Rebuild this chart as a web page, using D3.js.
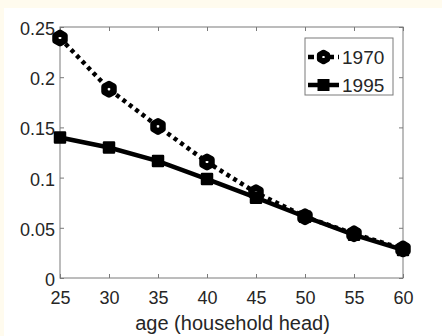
<!DOCTYPE html>
<html>
<head>
<meta charset="utf-8">
<script src="https://cdn.jsdelivr.net/npm/d3@7"></script>
<style>
  html, body { margin: 0; padding: 0; background: #fffbee; }
  svg { display: block; }
  text { font-family: "Liberation Sans", Arial, sans-serif; fill: #262626; }
</style>
</head>
<body>
<svg id="chart" width="442" height="336"></svg>
<script>
// Age of household head (x) and share for each survey year
const ages = [25, 30, 35, 40, 45, 50, 55, 60];
const share1970 = [0.239, 0.188, 0.151, 0.1155, 0.085, 0.061, 0.044, 0.029];
const share1995 = [0.140, 0.130, 0.1165, 0.0985, 0.080, 0.061, 0.043, 0.028];
const seriesNames = ["1970", "1995"];
const xTicks = [25, 30, 35, 40, 45, 50, 55, 60];
const yTicks = [0, 0.05, 0.1, 0.15, 0.2, 0.25];
const yTickLabels = ["0", "0.05", "0.1", "0.15", "0.2", "0.25"];
const xLabel = "age (household head)";

const svg = d3.select("#chart");
const W = 442, H = 336;
const plotL = 60, plotR = 403, plotT = 27, plotB = 278;

// white figure area
svg.append("rect").attr("x", 4).attr("y", 8).attr("width", W - 4).attr("height", H - 8).attr("fill", "#ffffff");

const x = d3.scaleLinear().domain([25, 60]).range([plotL, plotR]);
const y = d3.scaleLinear().domain([0, 0.25]).range([plotB, plotT]);

const axisColor = "#7a7a7a";
const fontSize = 18;

function styleAxis(g) {
  g.select(".domain").remove();
  g.selectAll(".tick line").attr("stroke", axisColor).attr("stroke-width", 1);
  g.selectAll(".tick text").attr("font-size", fontSize).attr("fill", "#303030")
    .attr("font-family", '"Liberation Sans", Arial, sans-serif');
}

// bottom axis with inward ticks
svg.append("g").attr("transform", `translate(0,${plotB})`)
  .call(d3.axisBottom(x).tickValues(xTicks).tickSizeInner(-4).tickSizeOuter(0).tickPadding(13).tickFormat(d3.format("d")))
  .call(styleAxis);
// top axis, ticks only
svg.append("g").attr("transform", `translate(0,${plotT})`)
  .call(d3.axisTop(x).tickValues(xTicks).tickSizeInner(-4).tickSizeOuter(0).tickFormat(""))
  .call(styleAxis);
// left axis
svg.append("g").attr("transform", `translate(${plotL},0)`)
  .call(d3.axisLeft(y).tickValues(yTicks).tickSizeInner(-4).tickSizeOuter(0).tickPadding(5)
    .tickFormat((d, i) => yTickLabels[i]))
  .call(styleAxis)
  .call(g => g.selectAll(".tick text").attr("dy", "0.42em"));
// right axis, ticks only
svg.append("g").attr("transform", `translate(${plotR},0)`)
  .call(d3.axisRight(y).tickValues(yTicks).tickSizeInner(-4).tickSizeOuter(0).tickFormat(""))
  .call(styleAxis);

// axes box
svg.append("rect").attr("x", plotL).attr("y", plotT).attr("width", plotR - plotL).attr("height", plotB - plotT)
  .attr("fill", "none").attr("stroke", axisColor).attr("stroke-width", 1);

// x label
svg.append("text").attr("x", (plotL + plotR) / 2 + 1).attr("y", 330).attr("text-anchor", "middle")
  .attr("font-size", 20).attr("fill", "#303030").text(xLabel);

const line = d3.line().x((d, i) => x(ages[i])).y(d => y(d));

// hexagon marker path centred at 0,0
function hexPath(r) {
  const pts = d3.range(6).map(k => {
    const a = Math.PI / 6 + k * Math.PI / 3;
    return [r * Math.cos(a), r * Math.sin(a)];
  });
  return "M" + pts.map(p => p.join(",")).join("L") + "Z";
}

// 1970 series: dotted
svg.append("path").datum(share1970).attr("d", line)
  .attr("fill", "none").attr("stroke", "#000").attr("stroke-width", 4.5)
  .attr("stroke-dasharray", "4,4");
svg.append("g").selectAll("path").data(share1970).join("path")
  .attr("transform", (d, i) => `translate(${x(ages[i])},${y(d)})`)
  .attr("d", hexPath(5.2)).attr("fill", "#fff").attr("stroke", "#000").attr("stroke-width", 6.5)
  .attr("stroke-linejoin", "round");

// 1995 series: solid
svg.append("path").datum(share1995).attr("d", line)
  .attr("fill", "none").attr("stroke", "#000").attr("stroke-width", 4.5);
svg.append("g").selectAll("rect").data(share1995).join("rect")
  .attr("x", (d, i) => x(ages[i]) - 5).attr("y", d => y(d) - 5)
  .attr("width", 10).attr("height", 10).attr("fill", "#000").attr("stroke", "#000").attr("stroke-width", 2.5)
  .attr("stroke-linejoin", "round");

// legend
const lg = svg.append("g");
lg.append("rect").attr("x", 305).attr("y", 38).attr("width", 88).attr("height", 57)
  .attr("fill", "#fff").attr("stroke", axisColor).attr("stroke-width", 1);
const rows = [57, 85];
// 1970 entry
lg.append("line").attr("x1", 308).attr("x2", 339).attr("y1", rows[0]).attr("y2", rows[0])
  .attr("stroke", "#000").attr("stroke-width", 4.5).attr("stroke-dasharray", "6,4");
lg.append("path").attr("transform", `translate(323.5,${rows[0]})`).attr("d", hexPath(4.5))
  .attr("fill", "#fff").attr("stroke", "#000").attr("stroke-width", 5.5).attr("stroke-linejoin", "round");
// 1995 entry
lg.append("line").attr("x1", 308).attr("x2", 339).attr("y1", rows[1]).attr("y2", rows[1])
  .attr("stroke", "#000").attr("stroke-width", 4.5);
lg.append("rect").attr("x", 318.5).attr("y", rows[1] - 5).attr("width", 10).attr("height", 10)
  .attr("fill", "#000").attr("stroke", "#000").attr("stroke-width", 2);
lg.selectAll("text.lab").data(seriesNames).join("text").attr("class", "lab")
  .attr("x", 342).attr("y", (d, i) => rows[i] + 7).attr("font-size", 19).attr("fill", "#303030").text(d => d);
</script>
</body>
</html>
